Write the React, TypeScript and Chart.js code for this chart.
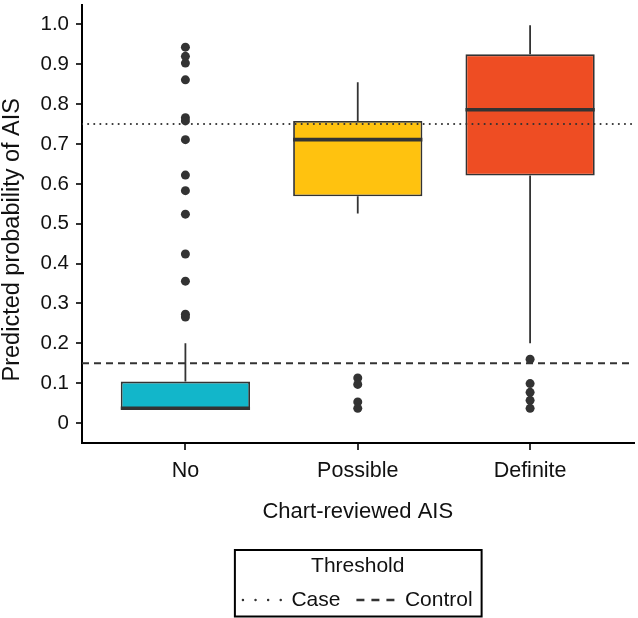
import React, { useEffect, useRef } from 'react';
import { Chart, registerables } from 'chart.js';

Chart.register(...registerables);

// ---------- data ----------
const CATEGORIES = ['No', 'Possible', 'Definite'];
const WHISKER_LOW = [0.034, 0.526, 0.2];
const Q1 = [0.034, 0.569, 0.621];
const MEDIAN = [0.037, 0.711, 0.786];
const Q3 = [0.104, 0.758, 0.925];
const WHISKER_HIGH = [0.2, 0.855, 0.998];
const OUTLIERS_NO = [0.943, 0.92, 0.903, 0.861, 0.766, 0.758, 0.711, 0.622, 0.583, 0.524, 0.424, 0.356, 0.273, 0.266];
const OUTLIERS_POSSIBLE = [0.113, 0.097, 0.053, 0.037];
const OUTLIERS_DEFINITE = [0.16, 0.099, 0.077, 0.057, 0.037];
const OUTLIERS = [OUTLIERS_NO, OUTLIERS_POSSIBLE, OUTLIERS_DEFINITE];
const THRESHOLD_CASE = 0.75;
const THRESHOLD_CONTROL = 0.15;
const THRESHOLD_LABELS = ['Case', 'Control'];
const Y_TICKS = [0, 0.1, 0.2, 0.3, 0.4, 0.5, 0.6, 0.7, 0.8, 0.9, 1.0];
const Y_TICK_LABELS = ['0', '0.1', '0.2', '0.3', '0.4', '0.5', '0.6', '0.7', '0.8', '0.9', '1.0'];
const X_MIN = 0.4;
const X_MAX = 3.6;
const Y_MIN = -0.05;
const Y_MAX = 1.05;
const X_TITLE = 'Chart-reviewed AIS';
const Y_TITLE = 'Predicted probability of AIS';
const LEGEND_TITLE = 'Threshold';

// ---------- styles ----------
const BOX_WIDTH = 0.75; // fraction of one category step
const BOX_COLORS = ['#12B6CA', '#FFC20F', '#EE4D23'];
const DARK = '#333333';
const TEXT = '#111111';
const FONT = '"Liberation Sans", Arial, Helvetica, sans-serif';

const legendBorderPlugin = {
  id: 'legendBorder',
  afterDraw(chart: any) {
    const lg = chart.legend;
    if (!lg || !lg.legendHitBoxes || !lg.legendHitBoxes.length) return;
    const boxes = lg.legendHitBoxes;
    const left = Math.min(...boxes.map((b: any) => b.left)) - 8;
    const right = Math.max(...boxes.map((b: any) => b.left + b.width)) + 9;
    const top = lg.top;
    const bottom = Math.max(...boxes.map((b: any) => b.top + b.height)) + 6;
    const ctx = chart.ctx;
    ctx.save();
    ctx.strokeStyle = '#000';
    ctx.lineWidth = 2;
    ctx.setLineDash([]);
    ctx.strokeRect(left, top + 1, right - left, bottom - top - 1);
    ctx.restore();
  },
};

const yTitlePlugin = {
  id: 'yTitle',
  afterDraw(chart: any) {
    const { ctx, chartArea } = chart;
    ctx.save();
    ctx.translate(12.5, (chartArea.top + chartArea.bottom) / 2 + 16);
    ctx.rotate(-Math.PI / 2);
    ctx.font = `23.5px ${FONT}`;
    ctx.fillStyle = TEXT;
    ctx.textAlign = 'center';
    ctx.textBaseline = 'middle';
    ctx.fillText(Y_TITLE, 0, 0);
    ctx.restore();
  },
};

export default function App() {
  const ref = useRef<HTMLCanvasElement>(null);

  useEffect(() => {
    if (!ref.current) return;

    const boxes = CATEGORIES.map((_, i) => ({ x: i + 1, y: [Q1[i], Q3[i]] }));
    const medians: any[] = [];
    CATEGORIES.forEach((_, i) => {
      medians.push(
        { x: i + 1 - BOX_WIDTH / 2, y: MEDIAN[i] },
        { x: i + 1 + BOX_WIDTH / 2, y: MEDIAN[i] },
        { x: i + 1, y: null },
      );
    });
    const whiskers: any[] = [];
    CATEGORIES.forEach((_, i) => {
      whiskers.push({ x: i + 1, y: WHISKER_LOW[i] }, { x: i + 1, y: Q1[i] }, { x: i + 1, y: null });
      whiskers.push({ x: i + 1, y: Q3[i] }, { x: i + 1, y: WHISKER_HIGH[i] }, { x: i + 1, y: null });
    });
    const outlierPoints: any[] = [];
    OUTLIERS.forEach((arr, i) => arr.forEach((v) => outlierPoints.push({ x: i + 1, y: v })));

    const chart = new Chart(ref.current, {
      type: 'bar',
      data: {
        datasets: [
          {
            type: 'line',
            label: THRESHOLD_LABELS[0],
            data: [
              { x: X_MIN, y: THRESHOLD_CASE },
              { x: X_MAX, y: THRESHOLD_CASE },
            ],
            borderColor: DARK,
            borderWidth: 2,
            borderDash: [0.1, 6],
            borderCapStyle: 'round',
            pointRadius: 0,
          } as any,
          {
            type: 'line',
            label: THRESHOLD_LABELS[1],
            data: [
              { x: X_MIN, y: THRESHOLD_CONTROL },
              { x: X_MAX, y: THRESHOLD_CONTROL },
            ],
            borderColor: DARK,
            borderWidth: 2,
            borderDash: [7, 5],
            borderCapStyle: 'butt',
            pointRadius: 0,
          } as any,
          {
            type: 'line',
            label: 'Outliers',
            data: outlierPoints,
            showLine: false,
            pointRadius: 4.5,
            pointBackgroundColor: DARK,
            pointBorderWidth: 0,
            borderColor: DARK,
          } as any,
          {
            type: 'line',
            label: 'Medians',
            data: medians,
            borderColor: DARK,
            borderWidth: 3.6,
            borderCapStyle: 'butt',
            pointRadius: 0,
            spanGaps: false,
          } as any,
          {
            type: 'line',
            label: 'Whiskers',
            data: whiskers,
            borderColor: DARK,
            borderWidth: 1.8,
            pointRadius: 0,
            spanGaps: false,
          } as any,
          {
            type: 'bar',
            label: 'Boxes',
            data: boxes,
            backgroundColor: BOX_COLORS,
            borderColor: DARK,
            borderWidth: 1.8,
            borderSkipped: false,
            grouped: false,
            categoryPercentage: 1,
            barPercentage: BOX_WIDTH,
          } as any,
        ],
      },
      options: {
        responsive: false,
        animation: false,
        events: [],
        layout: { padding: 0 },
        plugins: {
          tooltip: { enabled: false },
          legend: {
            display: true,
            position: 'bottom',
            align: 'center',
            fullSize: false,
            maxHeight: 69,
            title: {
              display: true,
              text: LEGEND_TITLE,
              color: TEXT,
              font: { family: FONT, size: 21 },
              padding: { top: 6.5, bottom: -7.2 },
            },
            labels: {
              usePointStyle: true,
              pointStyle: 'line',
              pointStyleWidth: 38,
              padding: 16,
              color: TEXT,
              font: { family: FONT, size: 21 },
              generateLabels: () => [
                {
                  text: THRESHOLD_LABELS[0],
                  datasetIndex: 0,
                  hidden: false,
                  fillStyle: 'rgba(0,0,0,0)',
                  strokeStyle: DARK,
                  fontColor: TEXT,
                  lineWidth: 2.4,
                  lineDash: [0.1, 12.5],
                  lineCap: 'round',
                  pointStyle: 'line',
                },
                {
                  text: THRESHOLD_LABELS[1],
                  datasetIndex: 1,
                  hidden: false,
                  fillStyle: 'rgba(0,0,0,0)',
                  strokeStyle: DARK,
                  fontColor: TEXT,
                  lineWidth: 2.4,
                  lineDash: [8, 7],
                  lineCap: 'butt',
                  pointStyle: 'line',
                },
              ],
            },
          } as any,
        },
        scales: {
          x: {
            type: 'linear',
            min: X_MIN,
            max: X_MAX,
            offset: false,
            afterBuildTicks: (scale: any) => {
              scale.ticks = CATEGORIES.map((_, i) => ({ value: i + 1 }));
            },
            afterFit: (scale: any) => {
              scale.height = 106;
              scale.paddingLeft = 0;
              scale.paddingRight = 0;
            },
            ticks: {
              callback: (_v: any, i: number) => CATEGORIES[i],
              color: TEXT,
              font: { family: FONT, size: 21.5 },
              padding: 8,
              maxRotation: 0,
              autoSkip: false,
            },
            grid: {
              display: true,
              offset: false,
              drawOnChartArea: false,
              drawTicks: true,
              tickLength: 7,
              lineWidth: 2,
              color: DARK,
            },
            border: { display: true, color: '#000', width: 2 },
            title: {
              display: true,
              text: X_TITLE,
              color: TEXT,
              font: { family: FONT, size: 22 },
              padding: { top: 0, bottom: 23.8 },
            },
          } as any,
          y: {
            type: 'linear',
            min: Y_MIN,
            max: Y_MAX,
            beginAtZero: false,
            afterBuildTicks: (scale: any) => {
              scale.ticks = Y_TICKS.map((v) => ({ value: v }));
            },
            afterFit: (scale: any) => {
              scale.width = 82;
              scale.paddingTop = 0;
              scale.paddingBottom = 0;
            },
            ticks: {
              callback: (_v: any, i: number) => Y_TICK_LABELS[i],
              color: TEXT,
              font: { family: FONT, size: 20.5 },
              padding: 7,
            },
            grid: {
              display: true,
              drawOnChartArea: false,
              drawTicks: true,
              tickLength: 6,
              lineWidth: 2,
              color: DARK,
            },
            border: { display: true, color: '#000', width: 2 },
          } as any,
        },
      },
      plugins: [legendBorderPlugin, yTitlePlugin],
    });

    return () => chart.destroy();
  }, []);

  return (
    <div style={{ position: 'absolute', left: 0, top: 0, width: 638, height: 618, background: '#fff' }}>
      <canvas ref={ref} width={638} height={618} />
    </div>
  );
}
